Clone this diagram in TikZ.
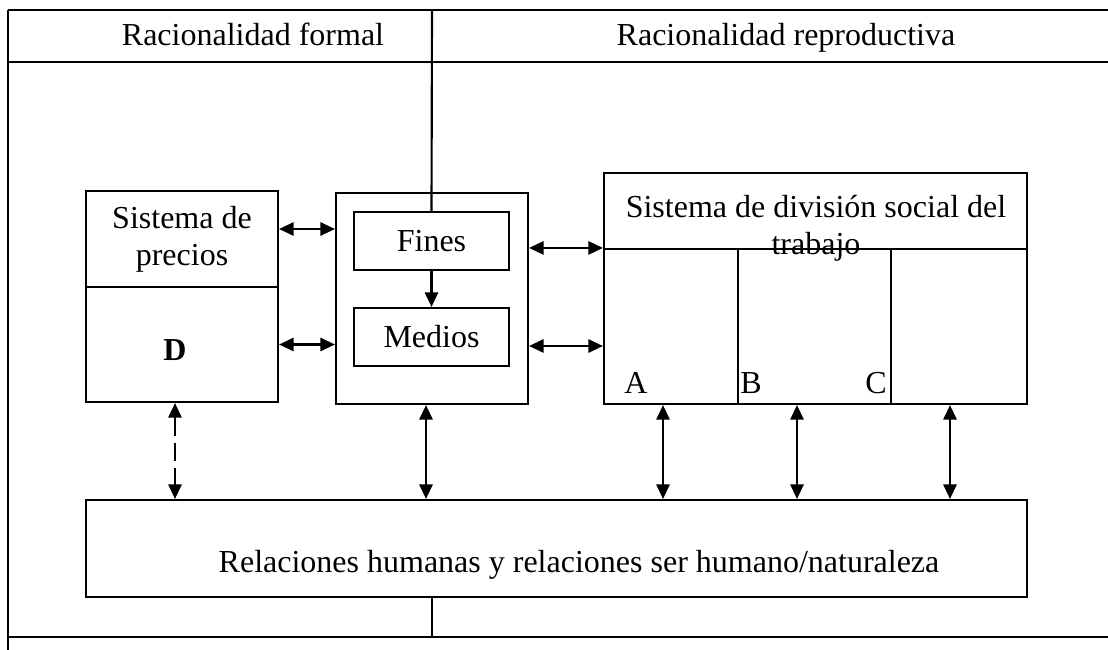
\documentclass[tikz,border=0pt]{standalone}
\usepackage{fontspec}
\setmainfont{Liberation Serif}
\usetikzlibrary{arrows.meta}
\def\px{0.375pt}
\def\marcolinewidth{0.8pt}
\def\caja[#1](#2,#3,#4,#5)#6{
    \node[caja,#1,minimum width={(#4-#2)*\px},minimum height={(#5-#3)*\px}] at ({(#2+#4)/2},{(#3+#5)/2}) {#6};
}

\begin{document}
\begin{tikzpicture}[x=\px,y=-\px,line width=\marcolinewidth,
        font=\fontsize{12pt}{13.8pt}\selectfont,
        >={Triangle[length=5.5pt,width=5pt]},
        caja/.style={draw,inner sep=0pt,align=center}]
        \useasboundingbox (0,0) rectangle (1108,650);
        % table frame
        \draw (8,10) -- (1108,10);
        \draw (8,62) -- (1108,62);
        \draw (8,637) -- (1108,637);
        \draw (8,10) -- (8,650);
        \node[anchor=base] (formal) at (253,45) {Racionalidad formal};
        \node[anchor=base] (reproductiva) at (786,45) {Racionalidad reproductiva};
        % boxes
        \caja[name=precios](86,191,278,287){Sistema de\\precios}
        \caja[name=dcaja](86,287,278,402){}
        \caja[name=medio](336,193,528,404){}
        \caja[name=fines](354,212,509,270){Fines}
        \caja[name=medios](354,308,509,366){Medios}
        \caja[name=trabajo](604,173,1027,249){}
        \caja[name=celdaA](604,249,738,404){}
        \caja[name=celdaB](738,249,891,404){}
        \caja[name=celdaC](891,249,1027,404){}
        \caja[name=relaciones](86,500,1027,597){}
        \draw (432,10) -- (fines.north);
        \draw (relaciones.south -| 432,0) -- (432,637);
        \node (letraD) at (175,350) {\textbf{D}};
        \node[align=center] (divsocial) at (816,228) {Sistema de división social del\\trabajo};
        \node[anchor=base] (letraA) at (636,393) {A};
        \node[anchor=base] (letraB) at (751,393) {B};
        \node[anchor=base] (letraC) at (876,393) {C};
        \node[anchor=base] (reltxt) at (579,572) {Relaciones humanas y relaciones ser humano/naturaleza};
        % arrows
        \draw[<->] (precios.east |- 0,229) -- (medio.west |- 0,229);
        \draw[<->] (dcaja.east) -- (medio.west |- dcaja.east);
        \draw[<->] (medio.east |- celdaA.north west) -- (celdaA.north west);
        \draw[<->] (medio.east |- 0,346) -- (celdaA.west |- 0,346);
        \draw[->] (fines) -- (medios);
        \draw[<->,dash pattern=on 7pt off 2.5pt] (dcaja.south -| 175,0) -- (relaciones.north -| 175,0);
        \draw[<->] (medio.south -| 426,0) -- (relaciones.north -| 426,0);
        \foreach \x/\c in {663/celdaA,797/celdaB,950/celdaC}
            \draw[<->] (\c.south -| \x,0) -- (relaciones.north -| \x,0);
    \end{tikzpicture}
\end{document}
